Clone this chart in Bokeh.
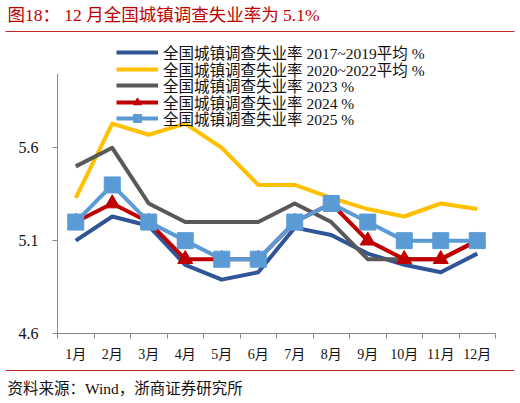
from bokeh.embed import file_html
from bokeh.models import BoxAnnotation, FixedTicker, Label, Legend, LegendItem, Range1d
from bokeh.plotting import figure
from bokeh.resources import INLINE

# Data --------------------------------------------------------------
months = list(range(1, 13))
month_labels = ["1月", "2月", "3月", "4月", "5月", "6月",
                "7月", "8月", "9月", "10月", "11月", "12月"]
y_ticks = [4.6, 5.1, 5.6]

avg_2017_2019 = [5.10, 5.23, 5.18, 4.97, 4.89, 4.93, 5.17, 5.13, 5.03, 4.97, 4.93, 5.03]
avg_2020_2022 = [5.33, 5.73, 5.67, 5.73, 5.60, 5.40, 5.40, 5.33, 5.27, 5.23, 5.30, 5.27]
rate_2023 = [5.5, 5.6, 5.3, 5.2, 5.2, 5.2, 5.3, 5.2, 5.0, 5.0, 5.0, 5.1]
rate_2024 = [5.2, 5.3, 5.2, 5.0, 5.0, 5.0, 5.2, 5.3, 5.1, 5.0, 5.0, 5.1]
rate_2025 = [5.2, 5.4, 5.2, 5.1, 5.0, 5.0, 5.2, 5.3, 5.2, 5.1, 5.1, 5.1]

series_names = ["全国城镇调查失业率 2017~2019平均 %",
                "全国城镇调查失业率 2020~2022平均 %",
                "全国城镇调查失业率 2023 %",
                "全国城镇调查失业率 2024 %",
                "全国城镇调查失业率 2025 %"]

TITLE = "图18： 12 月全国城镇调查失业率为 5.1%"
SOURCE = "资料来源：Wind，浙商证券研究所"

# Layout ------------------------------------------------------------
FONT = "Liberation Serif, Noto Sans CJK SC"
RED = "#C00000"
RULE_RED = "#C62828"
AXIS_GREY = "#8a8a8a"

W, H = 520, 403
# pixel box spanned by the axes; the frame itself covers the whole canvas
AX_L, AX_R, AX_T, AX_B = 57, 495, 73, 333
X_START, X_END = 0.5, 12.5
Y_START, Y_END = 4.6, 6.0
LEGEND_X = 116
LEGEND_ROWS = [53, 70, 86, 102.5, 119]   # pixel centre of each legend row


def data_x(px):
    return X_START + (px - AX_L) * (X_END - X_START) / (AX_R - AX_L)


def data_y(py):
    return Y_START + (AX_B - py) * (Y_END - Y_START) / (AX_B - AX_T)


p = figure(width=W, height=H, x_range=Range1d(data_x(0), data_x(W)), y_range=Range1d(data_y(H), data_y(0)),
           output_backend="svg", toolbar_location=None, tools="",
           min_border=0, min_border_left=0, min_border_right=0, min_border_top=0, min_border_bottom=0)
p.outline_line_color = None
p.xgrid.visible = False
p.ygrid.visible = False

# x axis: labels at month centres, ticks between months
p.xaxis.fixed_location = Y_START
p.xaxis.bounds = (X_START, X_END)
p.xaxis.ticker = FixedTicker(ticks=months, minor_ticks=[m - 0.5 for m in months] + [12.5])
p.xaxis.major_label_overrides = {m: lab for m, lab in zip(months, month_labels)}
p.xaxis.major_tick_out = 0
p.xaxis.major_tick_in = 0
p.xaxis.minor_tick_out = 5
p.xaxis.minor_tick_in = 0
p.xaxis.minor_tick_line_color = AXIS_GREY
p.xaxis.major_label_standoff = 8
p.xaxis.major_label_text_font_size = "14px"

p.yaxis.fixed_location = X_START
p.yaxis.bounds = (Y_START, Y_END)
p.yaxis.ticker = FixedTicker(ticks=y_ticks)
p.yaxis.major_tick_out = 5
p.yaxis.major_tick_in = 0
p.yaxis.major_tick_line_color = AXIS_GREY
p.yaxis.major_label_standoff = 14
p.yaxis.major_label_text_font_size = "16px"

for ax in (p.xaxis, p.yaxis):
    ax.axis_line_color = AXIS_GREY
    ax.major_label_text_font = FONT
    ax.major_label_text_color = "#111111"

# Series ------------------------------------------------------------
r1 = p.line(months, avg_2017_2019, line_color="#2F5597", line_width=4, line_join="round")
r2 = p.line(months, avg_2020_2022, line_color="#FFC000", line_width=4, line_join="round")
r3 = p.line(months, rate_2023, line_color="#595959", line_width=4, line_join="round")
r4 = p.line(months, rate_2024, line_color="#C00000", line_width=4, line_join="round")
r4m = p.scatter(months, rate_2024, marker="triangle", size=15, fill_color="#C00000", line_color="#C00000")
r5 = p.line(months, rate_2025, line_color="#5B9BD5", line_width=4, line_join="round")
r5m = p.scatter(months, rate_2025, marker="square", size=16, fill_color="#5B9BD5", line_color="#5B9BD5")

# one single-row legend per series so the row pitch follows the reference
legend_renderers = [[r1], [r2], [r3], [r4, r4m], [r5, r5m]]
for name, rends, row_y in zip(series_names, legend_renderers, LEGEND_ROWS):
    legend = Legend(items=[LegendItem(label=name, renderers=rends)],
                    location=(LEGEND_X, H - (row_y + 10)), padding=0, margin=0, spacing=0,
                    glyph_width=42, glyph_height=20, label_height=20, label_standoff=5,
                    label_text_font=FONT, label_text_font_size="15.5px", label_text_color="#111111",
                    border_line_alpha=0, background_fill_alpha=0)
    p.add_layout(legend)

# Title, source and red rules ----------------------------------------
p.add_layout(Label(x=data_x(7), y=data_y(14.5), text=TITLE, text_align="left", text_baseline="middle",
                   text_font=FONT, text_font_size="17.5px", text_color=RED))
p.add_layout(Label(x=data_x(7), y=data_y(388), text=SOURCE, text_align="left", text_baseline="middle",
                   text_font=FONT, text_font_size="15.5px", text_color="#111111"))
for rule_y in (31, 370):
    p.add_layout(BoxAnnotation(left=data_x(5), right=data_x(514), top=data_y(rule_y - 0.6),
                               bottom=data_y(rule_y + 0.6), fill_color=RULE_RED, fill_alpha=1,
                               line_alpha=0))

open("out.html", "w").write(file_html(p, INLINE))
